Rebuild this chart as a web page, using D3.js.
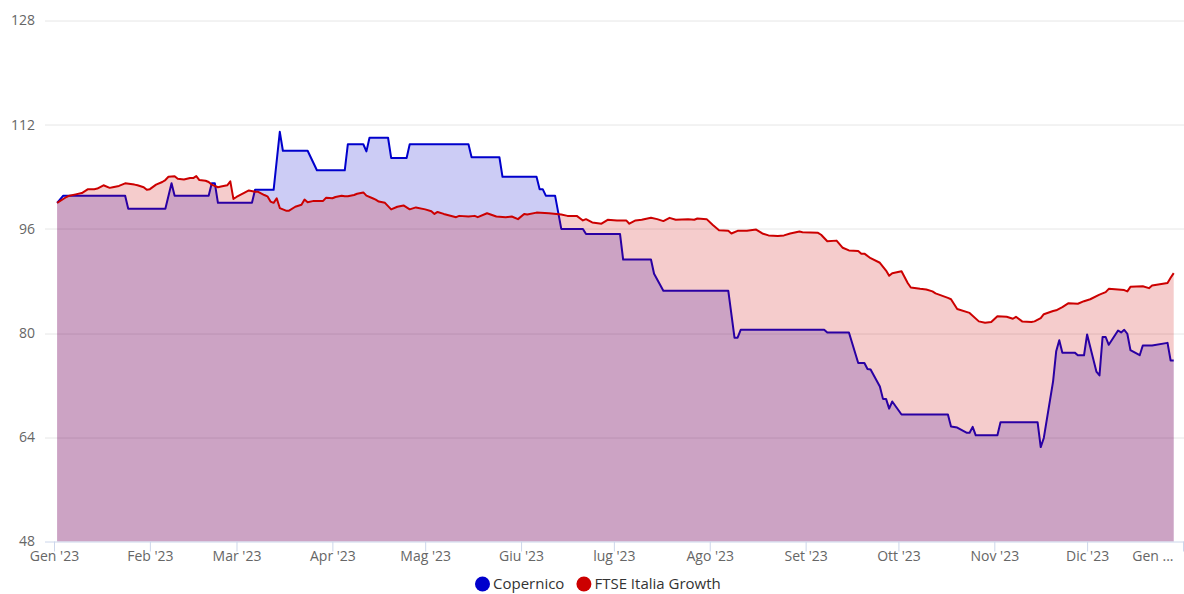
<!DOCTYPE html>
<html>
<head>
<meta charset="utf-8">
<script src="https://cdn.jsdelivr.net/npm/d3@7"></script>
<style>
  html, body { margin: 0; padding: 0; background: #fff; }
  svg { display: block; font-family: "Open Sans", sans-serif; }
</style>
</head>
<body>
<div id="chart"></div>
<script>
// Copernico vs FTSE Italia Growth, 2023, both rebased to 100

const SERIES_NAMES  = ["Copernico", "FTSE Italia Growth"];
const SERIES_COLORS = ["#0000cc", "#cc0000"];
const Y_TICKS       = [48, 64, 80, 96, 112, 128];
const MONTH_LABELS  = ["Gen", "Feb", "Mar", "Apr", "Mag", "Giu", "lug", "Ago", "Set", "Ott", "Nov", "Dic"];

const copernico = [
  ["2023-01-02", 100.0], ["2023-01-04", 101.1], ["2023-01-24", 101.1], ["2023-01-25", 99.1],
  ["2023-02-06", 99.1], ["2023-02-08", 103.0], ["2023-02-09", 101.1], ["2023-02-20", 101.1],
  ["2023-02-21", 103.0], ["2023-02-22", 103.0], ["2023-02-23", 100.0], ["2023-03-06", 100.0],
  ["2023-03-07", 102.0], ["2023-03-13", 102.0], ["2023-03-15", 110.9], ["2023-03-16", 108.0],
  ["2023-03-24", 108.0], ["2023-03-27", 105.0], ["2023-04-05", 105.0], ["2023-04-06", 109.0],
  ["2023-04-11", 109.0], ["2023-04-12", 107.9], ["2023-04-13", 110.0], ["2023-04-19", 110.0],
  ["2023-04-20", 106.9], ["2023-04-25", 106.9], ["2023-04-26", 109.0], ["2023-05-15", 109.0],
  ["2023-05-16", 107.0], ["2023-05-25", 107.0], ["2023-05-26", 104.0], ["2023-06-06", 104.0],
  ["2023-06-07", 102.1], ["2023-06-08", 102.1], ["2023-06-09", 101.1], ["2023-06-12", 101.1],
  ["2023-06-14", 96.0], ["2023-06-21", 96.0], ["2023-06-22", 95.2], ["2023-07-03", 95.2],
  ["2023-07-04", 91.3], ["2023-07-13", 91.3], ["2023-07-14", 89.1], ["2023-07-17", 86.5],
  ["2023-08-07", 86.5], ["2023-08-09", 79.3], ["2023-08-10", 79.3], ["2023-08-11", 80.5],
  ["2023-09-07", 80.5], ["2023-09-08", 80.1], ["2023-09-15", 80.1], ["2023-09-18", 75.4],
  ["2023-09-20", 75.4], ["2023-09-21", 74.5], ["2023-09-22", 74.4], ["2023-09-25", 71.8],
  ["2023-09-26", 69.9], ["2023-09-27", 69.9], ["2023-09-28", 68.4], ["2023-09-29", 69.5],
  ["2023-10-02", 67.5], ["2023-10-17", 67.5], ["2023-10-18", 65.65], ["2023-10-20", 65.5],
  ["2023-10-23", 64.7], ["2023-10-24", 64.7], ["2023-10-25", 65.6], ["2023-10-26", 64.3],
  ["2023-11-02", 64.3], ["2023-11-03", 66.3], ["2023-11-15", 66.3], ["2023-11-16", 62.5],
  ["2023-11-17", 63.9], ["2023-11-20", 72.6], ["2023-11-21", 77.2], ["2023-11-22", 78.9],
  ["2023-11-23", 77.0], ["2023-11-27", 77.0], ["2023-11-28", 76.6], ["2023-11-30", 76.6],
  ["2023-12-01", 79.8], ["2023-12-04", 74.1], ["2023-12-05", 73.5], ["2023-12-06", 79.4],
  ["2023-12-07", 79.4], ["2023-12-08", 78.2], ["2023-12-11", 80.4], ["2023-12-12", 80.1],
  ["2023-12-13", 80.5], ["2023-12-14", 79.9], ["2023-12-15", 77.4], ["2023-12-18", 76.6],
  ["2023-12-19", 78.1], ["2023-12-22", 78.1], ["2023-12-27", 78.5], ["2023-12-28", 75.8],
  ["2023-12-29", 75.8]
];

const ftseGrowth = [
  ["2023-01-02", 100.0], ["2023-01-05", 100.9], ["2023-01-06", 101.1], ["2023-01-08", 101.3],
  ["2023-01-10", 101.5], ["2023-01-12", 102.1], ["2023-01-14", 102.1], ["2023-01-15", 102.2],
  ["2023-01-17", 102.7], ["2023-01-19", 102.3], ["2023-01-20", 102.4], ["2023-01-22", 102.6],
  ["2023-01-24", 103.0], ["2023-01-27", 102.8], ["2023-01-28", 102.7], ["2023-01-30", 102.4],
  ["2023-01-31", 102.0], ["2023-02-01", 102.1], ["2023-02-03", 102.8], ["2023-02-05", 103.2],
  ["2023-02-06", 103.5], ["2023-02-07", 104.0], ["2023-02-09", 104.1], ["2023-02-10", 103.7],
  ["2023-02-12", 103.6], ["2023-02-14", 103.8], ["2023-02-15", 103.8], ["2023-02-16", 104.1],
  ["2023-02-17", 103.5], ["2023-02-19", 103.4], ["2023-02-20", 103.2], ["2023-02-21", 102.8],
  ["2023-02-23", 102.4], ["2023-02-24", 102.5], ["2023-02-26", 102.7], ["2023-02-27", 103.3],
  ["2023-02-28", 100.6], ["2023-03-01", 100.9], ["2023-03-03", 101.4], ["2023-03-05", 101.9],
  ["2023-03-07", 101.7], ["2023-03-08", 101.7], ["2023-03-10", 101.2], ["2023-03-11", 101.0],
  ["2023-03-12", 100.2], ["2023-03-13", 100.0], ["2023-03-14", 100.7], ["2023-03-15", 99.2],
  ["2023-03-17", 98.8], ["2023-03-18", 98.8], ["2023-03-20", 99.4], ["2023-03-22", 99.7],
  ["2023-03-23", 100.5], ["2023-03-24", 100.1], ["2023-03-26", 100.3], ["2023-03-29", 100.3],
  ["2023-03-30", 100.8], ["2023-04-01", 100.7], ["2023-04-02", 100.9], ["2023-04-04", 101.1],
  ["2023-04-05", 101.0], ["2023-04-06", 101.0], ["2023-04-08", 101.2], ["2023-04-09", 101.4],
  ["2023-04-11", 101.6], ["2023-04-12", 101.1], ["2023-04-14", 100.7], ["2023-04-15", 100.5],
  ["2023-04-16", 100.2], ["2023-04-18", 100.0], ["2023-04-20", 99.0], ["2023-04-22", 99.4],
  ["2023-04-24", 99.6], ["2023-04-26", 99.0], ["2023-04-28", 99.3], ["2023-05-01", 99.0],
  ["2023-05-03", 98.7], ["2023-05-04", 98.3], ["2023-05-05", 98.6], ["2023-05-07", 98.3],
  ["2023-05-11", 97.8], ["2023-05-12", 98.0], ["2023-05-15", 97.9], ["2023-05-17", 98.0],
  ["2023-05-18", 97.8], ["2023-05-21", 98.4], ["2023-05-24", 97.9], ["2023-05-27", 97.8],
  ["2023-05-29", 97.9], ["2023-05-31", 97.5], ["2023-06-02", 98.3], ["2023-06-03", 98.2],
  ["2023-06-06", 98.5], ["2023-06-10", 98.4], ["2023-06-14", 98.2], ["2023-06-16", 98.0],
  ["2023-06-19", 98.0], ["2023-06-21", 97.3], ["2023-06-22", 97.5], ["2023-06-24", 97.0],
  ["2023-06-27", 96.8], ["2023-06-29", 97.4], ["2023-07-02", 97.3], ["2023-07-05", 97.3],
  ["2023-07-06", 96.8], ["2023-07-08", 97.3], ["2023-07-10", 97.4], ["2023-07-13", 97.7],
  ["2023-07-15", 97.5], ["2023-07-17", 97.2], ["2023-07-19", 97.7], ["2023-07-21", 97.4],
  ["2023-07-25", 97.5], ["2023-07-27", 97.4], ["2023-07-28", 97.6], ["2023-07-31", 97.5],
  ["2023-08-02", 96.6], ["2023-08-04", 95.8], ["2023-08-07", 95.7], ["2023-08-08", 95.3],
  ["2023-08-10", 95.7], ["2023-08-13", 95.7], ["2023-08-16", 95.9], ["2023-08-18", 95.3],
  ["2023-08-20", 95.0], ["2023-08-23", 94.9], ["2023-08-25", 95.0], ["2023-08-27", 95.3],
  ["2023-08-30", 95.6], ["2023-08-31", 95.5], ["2023-09-05", 95.4], ["2023-09-06", 95.1],
  ["2023-09-08", 94.1], ["2023-09-11", 94.2], ["2023-09-13", 93.1], ["2023-09-15", 92.7],
  ["2023-09-18", 92.6], ["2023-09-19", 92.2], ["2023-09-20", 92.2], ["2023-09-22", 91.5],
  ["2023-09-25", 90.8], ["2023-09-27", 89.6], ["2023-09-28", 88.8], ["2023-09-29", 89.2],
  ["2023-10-02", 89.5], ["2023-10-04", 87.7], ["2023-10-05", 87.0], ["2023-10-08", 86.8],
  ["2023-10-10", 86.7], ["2023-10-12", 86.4], ["2023-10-13", 86.1], ["2023-10-17", 85.4],
  ["2023-10-18", 85.2], ["2023-10-20", 83.7], ["2023-10-24", 83.1], ["2023-10-27", 81.8],
  ["2023-10-29", 81.6], ["2023-10-31", 81.7], ["2023-11-02", 82.6], ["2023-11-05", 82.5],
  ["2023-11-07", 82.2], ["2023-11-08", 82.5], ["2023-11-10", 81.8], ["2023-11-13", 81.7],
  ["2023-11-14", 81.8], ["2023-11-16", 82.3], ["2023-11-17", 82.9], ["2023-11-20", 83.4],
  ["2023-11-21", 83.5], ["2023-11-23", 84.0], ["2023-11-25", 84.6], ["2023-11-28", 84.5],
  ["2023-11-30", 84.9], ["2023-12-02", 85.2], ["2023-12-05", 85.9], ["2023-12-07", 86.3],
  ["2023-12-08", 86.8], ["2023-12-11", 86.7], ["2023-12-13", 86.6], ["2023-12-14", 86.4],
  ["2023-12-15", 87.1], ["2023-12-19", 87.2], ["2023-12-21", 86.9], ["2023-12-22", 87.3],
  ["2023-12-27", 87.7], ["2023-12-28", 88.5], ["2023-12-29", 89.2]
];

const W = 1184, H = 594;
const m = { top: 20.5, right: 0, bottom: 52.5, left: 45 };
const iw = W - m.left - m.right;
const ih = H - m.top - m.bottom;

const parse = d3.utcParse("%Y-%m-%d");
const series = [copernico, ftseGrowth].map((rows, i) => ({
  name:  SERIES_NAMES[i],
  color: SERIES_COLORS[i],
  values: rows.map(([d, v]) => ({ date: parse(d), v }))
}));

const xStart = new Date(Date.UTC(2023, 0, 1));
const xEnd   = new Date(Date.UTC(2024, 0, 1));

const x = d3.scaleUtc().domain([xStart, xEnd]).range([9, iw - 1]);
const y = d3.scaleLinear().domain([48, 128]).range([ih, 0]);

const svg = d3.select("#chart").append("svg")
  .attr("width", W)
  .attr("height", H);

const g = svg.append("g").attr("transform", `translate(${m.left},${m.top})`);

// grid
g.selectAll("line.grid")
  .data(Y_TICKS.filter(t => t !== 48))
  .join("line")
    .attr("class", "grid")
    .attr("x1", 0).attr("x2", iw)
    .attr("y1", d => Math.round(y(d)) + 0.5)
    .attr("y2", d => Math.round(y(d)) + 0.5)
    .attr("stroke", "#e6e6e6")
    .attr("stroke-width", 1);

// y labels
g.selectAll("text.ylab")
  .data(Y_TICKS)
  .join("text")
    .attr("class", "ylab")
    .attr("x", -10)
    .attr("y", d => y(d))
    .attr("dy", "0.35em")
    .attr("text-anchor", "end")
    .attr("fill", "#666666")
    .attr("font-size", "14px")
    .text(d => d);

// areas + lines: blue first, red on top
const area = d3.area()
  .x(d => x(d.date))
  .y0(ih)
  .y1(d => y(d.v));
const line = d3.line()
  .x(d => x(d.date))
  .y(d => y(d.v));

series.forEach(s => {
  g.append("path")
    .datum(s.values)
    .attr("d", area)
    .attr("fill", s.color)
    .attr("fill-opacity", 0.2);
  g.append("path")
    .datum(s.values)
    .attr("d", line)
    .attr("fill", "none")
    .attr("stroke", s.color)
    .attr("stroke-width", 2)
    .attr("stroke-linejoin", "round");
});

// x axis
const monthTicks = d3.utcMonth.range(xStart, new Date(Date.UTC(2024, 0, 2)));
const fmt = d => `${MONTH_LABELS[d.getUTCMonth()]} '${String(d.getUTCFullYear()).slice(2)}`;

const xAxisG = g.append("g")
  .attr("transform", `translate(0,${ih})`)
  .call(d3.axisBottom(x).tickValues(monthTicks).tickSize(10).tickPadding(0).tickFormat(fmt));

xAxisG.select(".domain").remove();
xAxisG.selectAll(".tick line").attr("stroke", "#ccd6eb");
xAxisG.selectAll(".tick text")
  .attr("y", 10)
  .attr("dy", "0.71em")
  .attr("fill", "#666666")
  .attr("font-size", "14px")
  .attr("font-family", "Open Sans, sans-serif");

// last label does not fit: shortened and pulled inside
xAxisG.selectAll(".tick text")
  .filter((d, i, n) => i === n.length - 1)
  .attr("text-anchor", "end")
  .attr("dx", -10)
  .text("Gen ...");

g.append("line")
  .attr("x1", 0).attr("x2", iw)
  .attr("y1", Math.round(ih) + 0.5).attr("y2", Math.round(ih) + 0.5)
  .attr("stroke", "#ccd6eb")
  .attr("stroke-width", 1);

// legend
const legend = svg.append("g");
let lx = 0;
series.forEach((s, i) => {
  const item = legend.append("g").attr("transform", `translate(${lx},0)`);
  item.append("circle")
    .attr("cx", 7.5).attr("cy", 0).attr("r", 7.5)
    .attr("fill", s.color);
  const t = item.append("text")
    .attr("x", 18)
    .attr("y", 0)
    .attr("dy", "0.35em")
    .attr("fill", "#333333")
    .attr("font-size", "15px")
    .text(s.name);
  lx += 18 + t.node().getComputedTextLength() + 12;
});
const lw = lx - 12;
legend.attr("transform", `translate(${Math.round(598 - lw / 2)},584)`);
</script>
</body>
</html>
